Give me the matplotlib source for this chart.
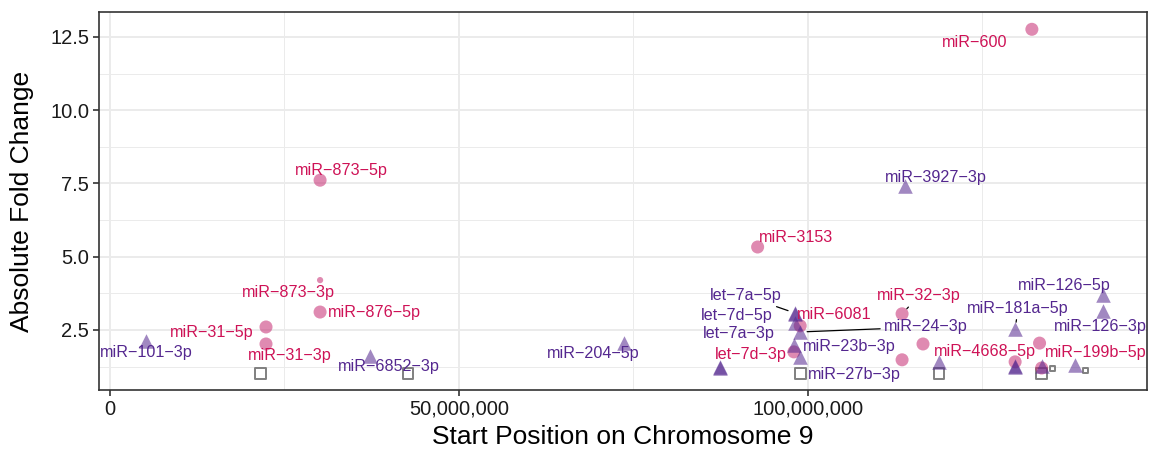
import matplotlib
matplotlib.use("Agg")
import matplotlib.pyplot as plt
from matplotlib.ticker import FixedLocator, FuncFormatter

plt.rcParams['font.family'] = ['Liberation Sans', 'DejaVu Sans']

# Up-regulated miRNAs (pink circles); '' = no label drawn
up_names = ['miR-600', 'miR-873-5p', 'miR-873-3p', 'miR-876-5p', 'miR-31-5p', 'miR-31-3p',
            'miR-3153', 'miR-6081', 'let-7d-3p', 'miR-32-3p', '', '', '',
            'miR-4668-5p', 'miR-199b-5p']
up_start = [132.1e6, 30.1e6, 30.1e6, 30.1e6, 22.35e6, 22.35e6,
            92.8e6, 98.9e6, 98.0e6, 113.5e6, 116.5e6, 113.5e6, 133.2e6,
            129.7e6, 133.5e6]
up_fold = [12.76, 7.61, 4.20, 3.11, 2.60, 2.02,
           5.33, 2.64, 1.75, 3.05, 2.02, 1.48, 2.05,
           1.41, 1.20]
up_size = [88, 88, 20, 88, 88, 88, 88, 88, 88, 88, 88, 88, 88, 88, 88]

# Down-regulated miRNAs (purple triangles)
down_names = ['miR-101-3p', 'miR-6852-3p', 'miR-204-5p', '', '',
              'let-7a-5p', '', 'let-7d-5p', 'miR-24-3p', 'let-7a-3p', 'miR-23b-3p',
              'miR-3927-3p', '', 'miR-181a-5p', '', '', '', '',
              'miR-126-5p', 'miR-126-3p']
down_start = [5.16e6, 37.2e6, 73.6e6, 87.4e6, 87.4e6,
              98.1e6, 98.1e6, 98.1e6, 98.9e6, 98.0e6, 98.9e6,
              113.9e6, 118.8e6, 129.7e6, 129.7e6, 129.7e6, 133.5e6, 138.3e6,
              142.3e6, 142.3e6]
down_fold = [2.12, 1.61, 2.06, 1.22, 1.20,
             3.08, 3.06, 2.74, 2.43, 1.99, 1.58,
             7.40, 1.41, 2.53, 1.27, 1.25, 1.27, 1.30,
             3.69, 3.15]

# Unchanged (grey open squares)
ns_names = ['', '', 'miR-27b-3p', '', '', '', '']
ns_start = [21.6e6, 42.7e6, 98.9e6, 118.8e6, 133.5e6, 135.1e6, 139.8e6]
ns_fold = [1.0, 1.0, 1.0, 1.0, 1.0, 1.18, 1.12]
ns_size = [60, 60, 60, 60, 60, 14, 14]

# label offsets in pixels (dx right, dy down) and whether a leader segment is drawn
up_offsets = {'miR-600': (-57, 13), 'miR-873-5p': (21, -10), 'miR-873-3p': (-32, 12),
              'miR-876-5p': (54, 0), 'miR-31-5p': (-54, 6), 'miR-31-3p': (24, 12),
              'miR-3153': (38, -9), 'miR-6081': (34, -11), 'let-7d-3p': (-43, 3),
              'miR-32-3p': (17, -18), 'miR-4668-5p': (-30, -10), 'miR-199b-5p': (54, -16)}
down_offsets = {'miR-101-3p': (0, 11), 'miR-6852-3p': (19, 11), 'miR-204-5p': (-30, 11),
                'let-7a-5p': (-49, -17), 'let-7d-5p': (-58, -7), 'miR-24-3p': (126, -5),
                'let-7a-3p': (-55, -11), 'miR-23b-3p': (49, -10), 'miR-3927-3p': (31, -9),
                'miR-181a-5p': (3, -21), 'miR-126-5p': (-39, -10), 'miR-126-3p': (-3, 16)}
ns_offsets = {'miR-27b-3p': (54, 1)}
segments = {'miR-32-3p', 'let-7a-5p', 'miR-24-3p', 'miR-181a-5p'}

pink, pink_text = '#C62B71', '#CE1256'
purple, purple_text = '#54278F', '#54278F'

fig = plt.figure(figsize=(11.5, 4.55), dpi=100)
ax = fig.add_axes([0.0861, 0.1429, 0.9113, 0.8307])

ax.scatter(ns_start, ns_fold, s=ns_size, marker='s', facecolors='none',
           edgecolors='#808080', linewidths=1.4, zorder=3)
ax.scatter(up_start, up_fold, s=up_size, marker='o', color=pink, alpha=0.55,
           linewidths=0, zorder=3)
ax.scatter(down_start, down_fold, s=110, marker='^', color=purple, alpha=0.55,
           linewidths=0, zorder=3)


def add_labels(names, xs, ys, offsets, color):
    for name, x, y in zip(names, xs, ys):
        if not name or name not in offsets:
            continue
        dx, dy = offsets[name]
        arrow = None
        if name in segments:
            arrow = dict(arrowstyle='-', color='black', lw=0.9, shrinkA=1, shrinkB=5)
        ax.annotate(name.replace('-', '\u2212'), xy=(x, y), xytext=(dx, -dy),
                    textcoords='offset pixels', ha='center', va='center',
                    fontsize=11.6, color=color, arrowprops=arrow, zorder=4)


add_labels(up_names, up_start, up_fold, up_offsets, pink_text)
add_labels(down_names, down_start, down_fold, down_offsets, purple_text)
add_labels(ns_names, ns_start, ns_fold, ns_offsets, purple_text)

ax.set_xlim(-1.58e6, 148.6e6)
ax.set_ylim(0.45, 13.35)

ax.xaxis.set_major_locator(FixedLocator([0, 50e6, 100e6]))
ax.xaxis.set_minor_locator(FixedLocator([25e6, 75e6, 125e6]))
ax.xaxis.set_major_formatter(FuncFormatter(lambda v, p: f'{int(v):,}'))
ax.yaxis.set_major_locator(FixedLocator([2.5, 5.0, 7.5, 10.0, 12.5]))
ax.yaxis.set_minor_locator(FixedLocator([1.25, 3.75, 6.25, 8.75, 11.25]))
ax.yaxis.set_major_formatter(FuncFormatter(lambda v, p: f'{v:.1f}'))

ax.grid(which='major', color='#EBEBEB', linewidth=1.4, zorder=0)
ax.grid(which='minor', color='#EBEBEB', linewidth=0.7, zorder=0)
ax.set_axisbelow(True)

for sp in ax.spines.values():
    sp.set_color('#333333')
    sp.set_linewidth(1.2)

ax.tick_params(which='major', direction='out', length=4, width=1.2, color='#333333',
               labelsize=14.5, labelcolor='#1a1a1a', pad=3)
ax.tick_params(which='minor', length=0)

ax.set_xlabel('Start Position on Chromosome 9', fontsize=19, color='black', va='center')
ax.set_ylabel('Absolute Fold Change', fontsize=19, color='black', va='center')
ax.xaxis.set_label_coords(0.5, -0.124)
ax.yaxis.set_label_coords(-0.0735, 0.5)

fig.savefig('out.png', dpi=100)
